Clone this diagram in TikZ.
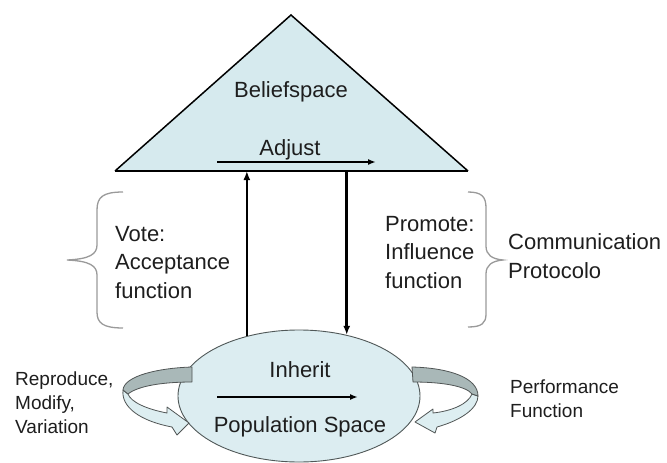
\documentclass[tikz,border=0pt]{standalone}
\usepackage{fontspec}
\setmainfont{Liberation Sans}
\usetikzlibrary{shapes.geometric,arrows.meta}
\definecolor{triblue}{HTML}{D6EAEE}
\definecolor{ellblue}{HTML}{DCEDF1}
\definecolor{ellline}{HTML}{505858}
\definecolor{txt}{HTML}{1E1E1E}
\definecolor{bracegray}{HTML}{9A9A9A}
\definecolor{lightband}{HTML}{DDEEF1}
\definecolor{darkband}{HTML}{A9B8B8}
\definecolor{bandline}{HTML}{505555}
\begin{document}
\begin{tikzpicture}[x=1pt,y=-1pt,
  lbl/.style={font=\fontsize{22}{28.5}\selectfont, text=txt, inner sep=0pt, align=left},
  sml/.style={font=\fontsize{19}{24}\selectfont, text=txt, inner sep=0pt, align=left},
  conn/.style={line width=2.6pt, -{Latex[length=9pt,width=7pt]}},
  thinarrow/.style={line width=1.6pt, -{Latex[length=8pt,width=6pt]}},
  bracestyle/.style={draw=bracegray, line width=1.3pt},
  ribbonlight/.style={fill=lightband, draw=bandline, line width=0.8pt, line join=round},
  ribbondark/.style={fill=darkband, draw=bandline, line width=0.8pt, line join=round}]
\useasboundingbox (0,0) rectangle (667,463);
\fill[white] (0,0) rectangle (667,463);

% belief space triangle
\coordinate (apex) at (291,15);
\coordinate (bl) at (115,171);
\coordinate (br) at (468,171);
\fill[triblue] (bl) -- (apex) -- (br) -- cycle;
\draw[line width=1.5pt] (bl) -- (apex) -- (br);
\draw[line width=2.6pt] (bl) -- (br);
\node[lbl, anchor=base] (belief) at (291,97) {Beliefspace};
\node[lbl, anchor=base] (adjust) at (290,155) {Adjust};
\coordinate (adjS) at (217,162);
\coordinate (adjE) at (376,162);
\draw[thinarrow] (adjS) -- (adjE);

% population space ellipse
\node[ellipse, draw=ellline, fill=ellblue, line width=0.9pt,
      minimum width=242pt, minimum height=132pt, inner sep=0pt] (pop) at (299,396) {};
\node[lbl, anchor=base] (inherit) at (300,377) {Inherit};
\node[lbl, anchor=base] (popname) at (300,432) {Population Space};
\coordinate (inhS) at (217,397);
\coordinate (inhE) at (358,397);
\draw[thinarrow] (inhS) -- (inhE);

% vertical connectors
\draw[conn] (pop.131.8) -- (pop.131.8 |- bl);
\draw[conn] (pop.52.3 |- bl) -- (pop.52.3);

% left ribbon arrow
\path[ribbonlight] (123,390) .. controls (121,407) and (140,421) .. (172,427)
   -- (177,435) -- (189,423) -- (167,407) -- (167,413)
   .. controls (146,409) and (131,402) .. (128,394) -- cycle;
\path[ribbondark] (192,367) .. controls (158,368) and (124,376) .. (123,390)
   -- (128,394) .. controls (138,386) and (162,382) .. (192,382) -- cycle;

% right ribbon arrow
\path[ribbonlight] (478,396) .. controls (478,408) and (462,420) .. (437,427)
   -- (435,433) -- (415,422) -- (433,409) -- (433,413)
   .. controls (452,411) and (468,404) .. (472,394) -- cycle;
\path[ribbondark] (412,367) .. controls (450,368) and (478,378) .. (478,396)
   -- (472,394) .. controls (466,386) and (442,382) .. (413,382) -- cycle;

% braces
\draw[bracestyle] (123,192) .. controls (103,192) and (97,197) .. (97,210)
   -- (97,245) .. controls (97,254) and (90,259) .. (67,260)
   .. controls (90,261) and (97,266) .. (97,275)
   -- (97,312) .. controls (97,323) and (103,328) .. (123,328);
\draw[bracestyle] (468,192) .. controls (482,192) and (486,197) .. (486,208)
   -- (486,246) .. controls (486,255) and (492,259) .. (503,260)
   .. controls (492,261) and (486,265) .. (486,274)
   -- (486,314) .. controls (486,323) and (482,327) .. (468,327);

% labels (base anchor = baseline of the last line)
\node[lbl, anchor=base west] (vote) at (115,298) {Vote:\\Acceptance\\function};
\node[lbl, anchor=base west] (promote) at (385,288) {Promote:\\Influence\\function};
\node[lbl, anchor=base west] (comm) at (508,278) {Communication\\Protocolo};
\node[sml, anchor=base west] (repro) at (15,433) {Reproduce,\\Modify,\\Variation};
\node[sml, anchor=base west] (perf) at (510,417) {Performance\\Function};
\end{tikzpicture}
\end{document}
